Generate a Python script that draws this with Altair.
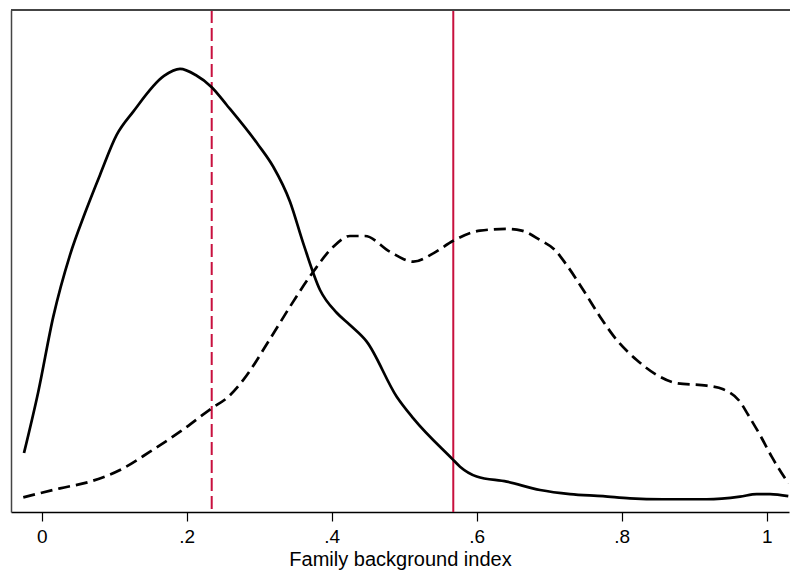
import altair as alt
import pandas as pd

# Solid density curve
solid_x = [-0.0244, -0.0047, 0.016, 0.039, 0.0597, 0.0804, 0.1034, 0.1263, 0.1687, 0.1908,
           0.2124, 0.2345, 0.2552, 0.2988, 0.3194, 0.3425, 0.3608, 0.3839, 0.4069, 0.4252,
           0.4483, 0.4897, 0.5126, 0.5655, 0.5770, 0.6000, 0.6414, 0.6874, 0.7287, 0.7743,
           0.8114, 0.8570, 0.9172, 0.9632, 0.9862, 1.0046, 1.0298]
solid_y = [0.319, 0.650, 1.056, 1.389, 1.616, 1.822, 2.038, 2.164, 2.357, 2.395,
           2.362, 2.296, 2.200, 1.984, 1.866, 1.677, 1.452, 1.200, 1.077, 1.011,
           0.921, 0.623, 0.506, 0.290, 0.245, 0.192, 0.164, 0.119, 0.097, 0.086,
           0.074, 0.069, 0.069, 0.083, 0.097, 0.097, 0.086]

# Dashed density curve
dash_x = [-0.0254, 0.0252, 0.0666, 0.108, 0.1494, 0.1908, 0.2345, 0.2574, 0.2781, 0.3149,
          0.3425, 0.3746, 0.4022, 0.4252, 0.4459, 0.4804, 0.5126, 0.5401, 0.5677, 0.6045,
          0.6414, 0.6621, 0.6874, 0.708, 0.7241, 0.747, 0.7701, 0.7931, 0.8207, 0.8483,
          0.8759, 0.9172, 0.9401, 0.9632, 0.9746, 0.9908, 1.0069, 1.0298]
dash_y = [0.079, 0.128, 0.164, 0.227, 0.326, 0.434, 0.561, 0.623, 0.714, 0.935,
          1.110, 1.299, 1.434, 1.492, 1.492, 1.407, 1.353, 1.398, 1.466, 1.521,
          1.530, 1.521, 1.470, 1.416, 1.335, 1.200, 1.056, 0.930, 0.822, 0.741,
          0.696, 0.683, 0.663, 0.596, 0.524, 0.416, 0.299, 0.155]

# Vertical reference lines (means)
vline_dashed = [0.2345]
vline_solid = [0.5677]

tick_values = [0, 0.2, 0.4, 0.6, 0.8, 1.0]
x_domain = [-0.04234, 1.03076]
y_domain = [0, 2.7135]

RED = "#c8103e"

solid_df = pd.DataFrame({"x": solid_x, "y": solid_y})
dash_df = pd.DataFrame({"x": dash_x, "y": dash_y})
vd_df = pd.DataFrame({"x": vline_dashed})
vs_df = pd.DataFrame({"x": vline_solid})

xscale = alt.Scale(domain=x_domain, nice=False, zero=False)
yscale = alt.Scale(domain=y_domain, nice=False, zero=False)

xaxis = alt.Axis(
    values=tick_values,
    labelExpr="datum.value == 0 ? '0' : datum.value == 1 ? '1' : replace(format(datum.value, '.1f'), '0.', '.')",
    title="Family background index",
    grid=False,
    domainColor="black", domainWidth=1.5,
    tickColor="black", tickWidth=1.2, tickSize=9,
    labelFont="Liberation Sans", labelFontSize=19, labelColor="black", labelPadding=6,
    titleFont="Liberation Sans", titleFontSize=20, titleFontWeight="normal",
    titleColor="black", titlePadding=3,
)
yaxis = alt.Axis(labels=False, ticks=False, title=None, grid=False,
                 domainColor="#444444", domainWidth=1.5)

solid = alt.Chart(solid_df).mark_line(color="black", strokeWidth=2.7, clip=True,
                                      interpolate="monotone").encode(
    x=alt.X("x:Q", scale=xscale, axis=xaxis),
    y=alt.Y("y:Q", scale=yscale, axis=yaxis),
)
dashed = alt.Chart(dash_df).mark_line(color="black", strokeWidth=2.7, strokeDash=[12, 6], clip=True,
                                      interpolate="monotone").encode(
    x=alt.X("x:Q", scale=xscale),
    y=alt.Y("y:Q", scale=yscale),
)
vdash = alt.Chart(vd_df).mark_rule(color=RED, strokeWidth=2, strokeDash=[13, 5]).encode(
    x=alt.X("x:Q", scale=xscale),
)
vsolid = alt.Chart(vs_df).mark_rule(color=RED, strokeWidth=2).encode(
    x=alt.X("x:Q", scale=xscale),
)
topline = alt.Chart(solid_df).mark_rule(color="#444444", strokeWidth=1.5).encode(
    x=alt.value(0), x2=alt.value(780), y=alt.value(0)
)

chart = alt.layer(vdash, vsolid, solid, dashed, topline).properties(
    width=778, height=502,
    autosize=alt.AutoSizeParams(type="none"),
    padding={"left": 11, "top": 10, "right": 1, "bottom": 58},
    background="white",
).configure_view(stroke=None)

chart.save("out.html", embed_options={"renderer": "svg", "actions": False})
